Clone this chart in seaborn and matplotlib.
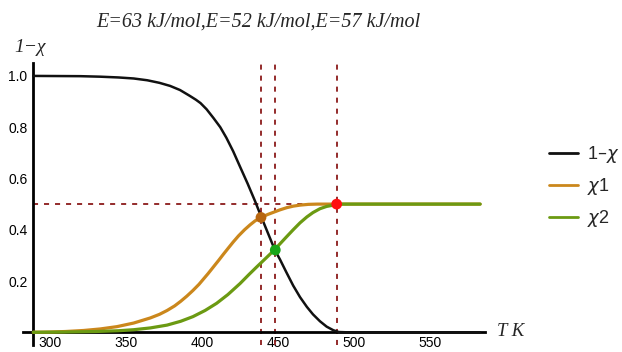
import matplotlib
matplotlib.use("Agg")
import matplotlib.pyplot as plt
from matplotlib.ticker import MultipleLocator, FixedLocator
import seaborn as sns
import pandas as pd

# ---------------- data ----------------
T_black = [289, 320, 333, 345, 355, 364, 372, 379, 385.5, 392, 396, 399, 403, 407.5, 412, 416,
           420.5, 425, 430, 435, 439, 443.5, 448, 451.3, 455.5, 460, 464.5, 469, 473,
           477.6, 482, 486.4, 490, 495, 583]
v_black = [1.0, 0.999, 0.997, 0.994, 0.99, 0.983, 0.973, 0.961, 0.945, 0.922, 0.907, 0.894,
           0.870, 0.836, 0.800, 0.759, 0.706, 0.646, 0.58, 0.51, 0.45, 0.385, 0.32, 0.284,
           0.234, 0.182, 0.137, 0.099, 0.07, 0.043, 0.022, 0.008, 0.001, 0.0, 0.0]

T_chi1 = [289, 300, 310, 322, 333, 344, 355, 366, 372, 377, 382, 386, 390, 394, 398, 401,
          404, 407.5, 411, 414, 417.5, 420.5, 424, 428, 431.6, 435, 439, 443, 447, 451,
          455.7, 460, 464.5, 470, 476, 583]
v_chi1 = [0.0, 0.001, 0.003, 0.007, 0.013, 0.022, 0.036, 0.056, 0.07, 0.085, 0.103, 0.121,
          0.141, 0.163, 0.187, 0.208, 0.229, 0.255, 0.281, 0.304, 0.33, 0.352, 0.376, 0.40,
          0.419, 0.435, 0.448, 0.459, 0.468, 0.477, 0.486, 0.492, 0.496, 0.499, 0.5, 0.5]

T_chi2 = [289, 310, 330, 345, 355, 366, 377, 386, 394, 402, 409.6, 417, 425, 431, 436, 442,
          447.6, 451.3, 455.7, 460, 464.5, 469, 473, 477.6, 482, 487.5, 492, 583]
v_chi2 = [0.0, 0.001, 0.003, 0.006, 0.01, 0.017, 0.028, 0.043, 0.061, 0.085, 0.113, 0.147,
          0.19, 0.226, 0.255, 0.289, 0.321, 0.345, 0.373, 0.40, 0.427, 0.45, 0.467, 0.482,
          0.491, 0.497, 0.5, 0.5]

series_labels = ["1\u2013$\\chi$", "$\\chi$1", "$\\chi$2"]

dot_T = [438.8, 448.2, 488.6]
dot_v = [0.448, 0.321, 0.5]
dot_names = ["a", "b", "c"]

x_ticks = [300, 350, 400, 450, 500, 550]
y_ticks = [0.2, 0.4, 0.6, 0.8, 1.0]
y_tick_labels = ["0.2", "0.4", "0.6", "0.8", "1.0"]

title_text = "E=63 kJ/mol,E=52 kJ/mol,E=57 kJ/mol"
y_label = "1\u2212\u03c7"
x_label = "T K"

y_axis_T = 288.8

# ---------------- style ----------------
sns.set_style("white")
plt.rcParams["font.family"] = ["Liberation Sans", "DejaVu Sans"]
plt.rcParams["mathtext.fontset"] = "dejavusans"

col_black = "#111111"
col_brown = "#CB871C"
col_green = "#6B9A12"
col_dash = "#8B1A1A"
dot_cols = ["#B8660F", "#19A619", "#FF1010"]

W, H = 622, 352
fig = plt.figure(figsize=(W / 100, H / 100), dpi=100)
ax = fig.add_axes([23 / W, (H - 345.1) / H, 462 / W, 282 / H])
ax.set_xlim(282.2, 586.2)
ax.set_ylim(-0.05, 1.05)

# reference lines (drawn first, beneath curves)
for t in dot_T:
    ax.axvline(t, color=col_dash, lw=1.3, linestyle=(0, (2.8, 3.3)), zorder=1)
ax.hlines(dot_v[2], y_axis_T, dot_T[2], color=col_dash, lw=1.3,
          linestyle=(0, (2.8, 3.3)), zorder=1)

df_b = pd.DataFrame({"T": T_black, "v": v_black})
df_1 = pd.DataFrame({"T": T_chi1, "v": v_chi1})
df_2 = pd.DataFrame({"T": T_chi2, "v": v_chi2})

sns.lineplot(data=df_b, x="T", y="v", color=col_black, lw=1.8, ax=ax,
             label=series_labels[0], zorder=3)
sns.lineplot(data=df_1, x="T", y="v", color=col_brown, lw=2.3, ax=ax,
             label=series_labels[1], zorder=3)
sns.lineplot(data=df_2, x="T", y="v", color=col_green, lw=2.3, ax=ax,
             label=series_labels[2], zorder=3)

df_d = pd.DataFrame({"T": dot_T, "v": dot_v, "n": dot_names})
sns.scatterplot(data=df_d, x="T", y="v", hue="n", palette=dot_cols, s=60,
                edgecolor="none", legend=False, ax=ax, zorder=5)

# axes styling (Mathematica-like crossing axes)
for s in ["top", "right"]:
    ax.spines[s].set_visible(False)
ax.spines["left"].set_position(("data", y_axis_T))
ax.spines["bottom"].set_position(("data", 0))
for s in ["left", "bottom"]:
    ax.spines[s].set_linewidth(2.0)
    ax.spines[s].set_color("black")
    ax.spines[s].set_zorder(2)

ax.xaxis.set_major_locator(FixedLocator(x_ticks))
ax.xaxis.set_minor_locator(MultipleLocator(10))
ax.set_yticks(y_ticks)
ax.set_yticklabels(y_tick_labels)
ax.yaxis.set_minor_locator(MultipleLocator(0.05))
ax.tick_params(axis="both", which="major", direction="in", length=4, width=0.9,
               labelsize=10, colors="black", pad=4)
ax.tick_params(axis="both", which="minor", direction="in", length=2.2, width=0.6,
               colors="#555555")
ax.tick_params(axis="x", which="major", pad=3)
ax.set_xlabel("")
ax.set_ylabel("")
ax.grid(False)

leg = ax.legend(loc="upper left", bbox_to_anchor=(533 / W, 1 - 128 / H),
                bbox_transform=fig.transFigure, frameon=False, fontsize=13,
                handlelength=1.6, handletextpad=0.5, labelspacing=0.6)
for line in leg.get_lines():
    line.set_linewidth(2.0)

fig.text(258 / W, 1 - 22 / H, title_text, ha="center", va="center",
         family="Liberation Serif", style="italic", fontsize=14.5)
fig.text(14 / W, 1 - 47 / H, y_label, ha="left", va="center",
         family="Liberation Serif", style="italic", fontsize=14)
fig.text(497 / W, 1 - 331 / H, x_label, ha="left", va="center",
         family="Liberation Serif", style="italic", fontsize=13.5)

fig.savefig("out.png", dpi=100)
